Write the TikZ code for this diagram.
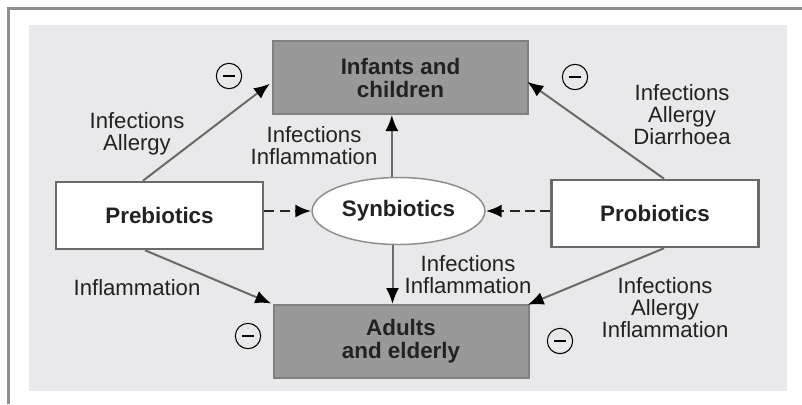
\documentclass[tikz,border=0pt]{standalone}
\usepackage{fontspec}
\setmainfont{Liberation Sans}
\usetikzlibrary{arrows.meta,shapes.geometric}

\definecolor{panelgray}{HTML}{E9E9EB}
\definecolor{framegray}{HTML}{8E8E8E}
\definecolor{boxgray}{HTML}{999999}
\definecolor{edgegray}{HTML}{6A6A6A}
\definecolor{inkgray}{HTML}{222222}

\begin{document}
\begin{tikzpicture}
    [x=0.75pt,y=-0.75pt,every node/.style={text=inkgray},
     agebox/.style={draw=edgegray!85,line width=1.5pt,fill=boxgray,minimum width=191.25pt,minimum height=54.75pt,align=center,font=\fontsize{16.8}{17.25}\selectfont\bfseries},
     agentbox/.style={draw=edgegray,line width=1.9pt,fill=white,minimum width=155.25pt,minimum height=50.25pt,font=\fontsize{16.8}{17.25}\selectfont\bfseries},
     effect/.style={align=center,font=\fontsize{16.6}{16.5}\selectfont},
     negsign/.style={circle,draw=black,line width=0.8pt,minimum size=19pt,inner sep=0pt,
       path picture={\draw[line width=0.8pt] ([xshift=-4.5pt]path picture bounding box.center) -- ([xshift=4.5pt]path picture bounding box.center);}},
     link/.style={draw=edgegray,line width=1.5pt,-{Latex[length=12pt,width=9.75pt,color=black]}},
     mix/.style={draw=black!85,line width=2.2pt,dash pattern=on 7.5pt off 4pt,-{Latex[length=12pt,width=9.75pt,color=black]}}]
    \useasboundingbox (0,0) rectangle (802,404);

    % frame and panel
    \draw[framegray,line width=2.25pt] (8,404) -- (8,8.5) -- (802,8.5);
    \fill[panelgray] (29,25) rectangle (787,391);

    \node[agebox] (inf) at (400.5,77.5) {Infants and\\children};
    \node[agebox] (adu) at (401,341.5) {Adults\\and elderly};
    \node[agentbox] (pre) at (159.5,215.5) {Prebiotics};
    \node[agentbox] (pro) at (655,213.5) {Probiotics};
    \node[ellipse,draw=framegray,line width=1.1pt,fill=white,minimum width=122.25pt,minimum height=50.25pt,
          font=\fontsize{16.8}{17.25}\selectfont\bfseries] (syn) at (398.5,211) {Synbiotics};

    \draw[link,shorten >=2pt] ([xshift=-12.4pt]pre.north) -- ([yshift=-3.4pt]inf.west);
    \draw[link,shorten >=1pt] ([xshift=-10.9pt]pre.south) -- (adu.north west);
    \draw[link,shorten >=-1.5pt] ([xshift=6.75pt]pro.north) -- ([yshift=-4.1pt]inf.east);
    \draw[link,shorten >=-1.5pt] ([xshift=6.75pt]pro.south) -- (adu.north east);
    \draw[link] ([xshift=-5pt]syn.north) -- ([xshift=-5pt]syn.north |- inf.south);
    \draw[link] ([xshift=-4.5pt]syn.south) -- ([xshift=-4.5pt]syn.south |- adu.north);
    \draw[mix] (pre.east |- syn) -- (syn.west);
    \draw[mix] (pro.west |- syn) -- (syn.east);

    \node[effect] (l1) at (137,134) {Infections\\Allergy};
    \node[effect] (l2) at (314,146) {Infections\\Inflammation};
    \node[effect] (l3) at (682,115) {Infections\\Allergy\\Diarrhoea};
    \node[effect] (l4) at (137,288) {Inflammation};
    \node[effect] (l5) at (468,275) {Infections\\Inflammation};
    \node[effect] (l6) at (665,308) {Infections\\Allergy\\Inflammation};

    \node[negsign] (m1) at (229,76) {};
    \node[negsign] (m2) at (575,77) {};
    \node[negsign] (m3) at (248,336) {};
    \node[negsign] (m4) at (560,341) {};
\end{tikzpicture}
\end{document}
